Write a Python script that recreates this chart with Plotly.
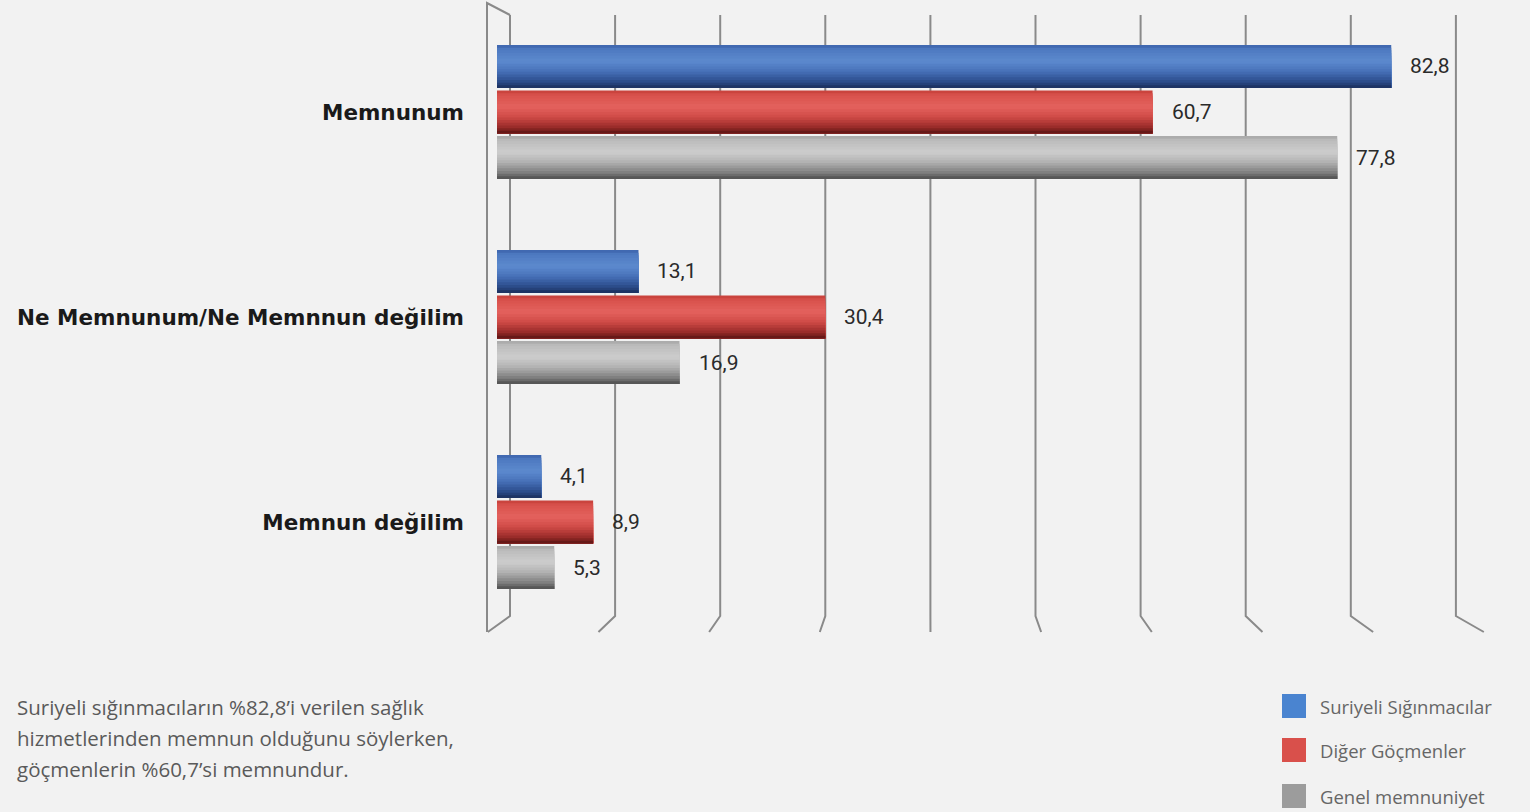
import plotly.graph_objects as go

# ---------------- data ----------------
categories = ["Memnunum", "Ne Memnunum/Ne Memnnun değilim", "Memnun değilim"]
series_names = ["Suriyeli Sığınmacılar", "Diğer Göçmenler", "Genel memnuniyet"]
suriyeli = [82.8, 13.1, 4.1]
diger = [60.7, 30.4, 8.9]
genel = [77.8, 16.9, 5.3]
series_values = [suriyeli, diger, genel]
note_lines = [
    "Suriyeli sığınmacıların %82,8’i verilen sağlık",
    "hizmetlerinden memnun olduğunu söylerken,",
    "göçmenlerin %60,7’si memnundur.",
]

# ---------------- style ----------------
W, H = 1530, 812
BG = "#f2f2f2"
bar_thick = 0.21
bar_centers = [-0.222, 0.0, 0.222]
gradient_stops = [
    [(0.0, "#3b62aa"), (0.1, "#4d79c0"), (0.38, "#5d8ace"), (0.62, "#4670b8"), (0.86, "#2a4a88"), (1.0, "#1a2e5a")],
    [(0.0, "#c43e38"), (0.1, "#d7504b"), (0.38, "#e4625e"), (0.62, "#cf4a46"), (0.86, "#962a28"), (1.0, "#5a1414")],
    [(0.0, "#a4a4a4"), (0.1, "#bcbcbc"), (0.38, "#cdcdcd"), (0.62, "#b0b0b0"), (0.86, "#7c7c7c"), (1.0, "#4c4c4c")],
]
legend_colors = ["#4a84d0", "#d9504b", "#9c9c9c"]
N_STRIPS = 16


def hex2rgb(h):
    h = h.lstrip("#")
    return tuple(int(h[i:i + 2], 16) for i in (0, 2, 4))


def interp(stops, t):
    for (t0, c0), (t1, c1) in zip(stops[:-1], stops[1:]):
        if t0 <= t <= t1:
            a = (t - t0) / (t1 - t0) if t1 > t0 else 0
            r0, g0, b0 = hex2rgb(c0)
            r1, g1, b1 = hex2rgb(c1)
            return "rgb(%d,%d,%d)" % (round(r0 + (r1 - r0) * a), round(g0 + (g1 - g0) * a), round(b0 + (b1 - b0) * a))
    return stops[-1][1]


fig = go.Figure()

for s, (name, vals) in enumerate(zip(series_names, series_values)):
    top = bar_centers[s] - bar_thick / 2
    step = bar_thick / N_STRIPS
    for k in range(N_STRIPS):
        off = top + k * step
        fig.add_trace(go.Bar(
            y=categories, x=vals, orientation="h",
            offset=off, width=bar_thick - k * step,
            marker=dict(color=interp(gradient_stops[s], (k + 0.5) / N_STRIPS), line=dict(width=0)),
            name=name, legendgroup=name, showlegend=False,
            hoverinfo="skip" if k else "x+name",
        ))

# value labels
annotations = []
for s, vals in enumerate(series_values):
    for i, v in enumerate(vals):
        annotations.append(dict(
            x=v, y=i + bar_centers[s], xref="x", yref="y",
            text=f"{v:.1f}".replace(".", ","), showarrow=False,
            xanchor="left", yanchor="middle", xshift=17,
            font=dict(family="Roboto", size=21, color="#2a2a2a"),
        ))

# note text
for j, line in enumerate(note_lines):
    annotations.append(dict(
        x=15 / W, y=1 - (707 + 31 * j) / H, xref="paper", yref="paper",
        text=line, showarrow=False, xanchor="left", yanchor="middle",
        font=dict(family="Open Sans", size=20.5, color="#5a5a5a"),
    ))

# custom legend
shapes = []
legend_rows = [706, 750, 796]
for name, col, py in zip(series_names, legend_colors, legend_rows):
    shapes.append(dict(type="rect", xref="paper", yref="paper",
                       x0=1282 / W, x1=1306 / W, y0=1 - (py + 12) / H, y1=1 - (py - 12) / H,
                       fillcolor=col, line=dict(width=0)))
    annotations.append(dict(
        x=1318 / W, y=1 - py / H, xref="paper", yref="paper", text=name, showarrow=False,
        xanchor="left", yanchor="middle",
        font=dict(family="Open Sans", size=18.5, color="#666666"),
    ))


def px(x):
    return x / W


def py_(y):
    return 1 - y / H


# 3D-looking grid lines (paper coordinates)
grid_px = [510 + 105.1 * k for k in range(10)]
for gx in grid_px:
    dx = (gx - 929) * 0.053
    path = f"M {px(gx)},{py_(15)} L {px(gx)},{py_(616)} L {px(gx + dx)},{py_(632)}"
    shapes.append(dict(type="path", xref="paper", yref="paper", path=path,
                       line=dict(color="#8a8a8a", width=2), layer="below"))
# left wall
shapes.append(dict(type="path", xref="paper", yref="paper",
                   path=f"M {px(487)},{py_(632)} L {px(487)},{py_(3)} L {px(510)},{py_(15)}",
                   line=dict(color="#8a8a8a", width=2), layer="below"))

fig.update_layout(
    width=W, height=H,
    margin=dict(l=0, r=0, t=0, b=0),
    paper_bgcolor=BG, plot_bgcolor="rgba(0,0,0,0)",
    barmode="overlay",
    showlegend=False,
    xaxis=dict(domain=[497 / W, (497 + 95 * 10.8) / W], range=[0, 95],
               showgrid=False, zeroline=False, showticklabels=False, showline=False, fixedrange=True),
    yaxis=dict(type="category", categoryarray=categories, categoryorder="array",
               domain=[(H - 624.5) / H, (H - 9.5) / H], range=[2.5, -0.5],
               showgrid=False, zeroline=False, showline=False, ticks="",
               ticklabelstandoff=32,
               tickfont=dict(family="DejaVu Sans", size=21.5, color="#1a1a1a", weight="bold")),
    annotations=annotations,
    shapes=shapes,
)

fig.write_html("out.html", config={"displayModeBar": False},
               post_script="document.body.style.margin='0';document.body.style.background='#f2f2f2';")
